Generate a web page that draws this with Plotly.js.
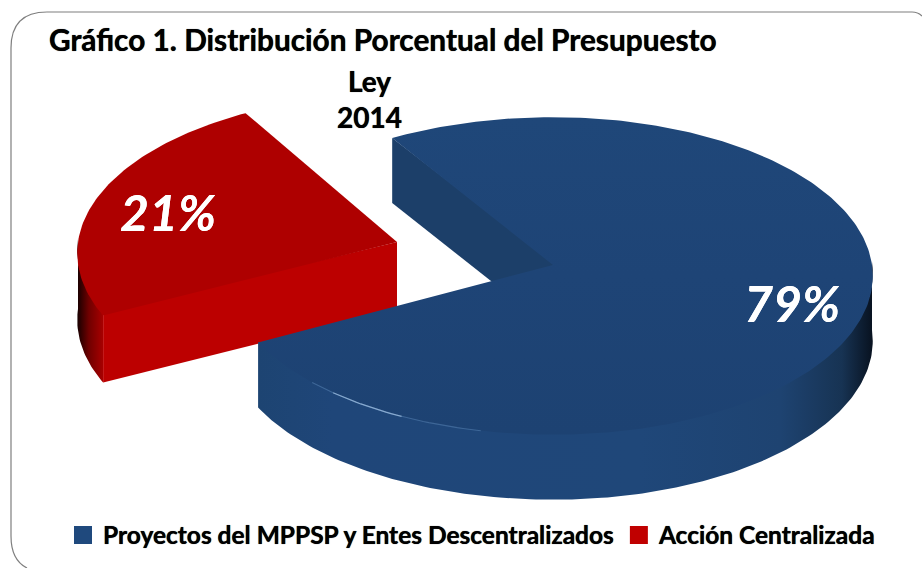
<!DOCTYPE html>
<html><head><meta charset="utf-8">
<script src="https://cdn.plot.ly/plotly-3.0.1.min.js"></script>
<style>html,body{margin:0;padding:0;background:#fff}#c{width:922px;height:568px}</style>
</head><body><div id="c"></div>
<script>
const categories = ["Proyectos del MPPSP y Entes Descentralizados", "Acción Centralizada"];
const shares = [79, 21];
const colors = ["#1F497D", "#C00000"];
const titleLine = "Gráfico 1. Distribución Porcentual del Presupuesto";
const subtitle = "Ley<br>2014";

// View of the tilted disc
const view = {a:319, b:158, k:0.069, mid:165, stretch:1.215, redTurn:-1.5};
const blueApex = [553,265,324], redApex = [397,242,319];
const blueDepth = 65, redDepth = 67;
const rad = d => d*Math.PI/180;
function warp(t){ // oblique view distorts the angles around the cut axis
  const r = rad(t-view.mid);
  const w = Math.atan2(view.stretch*Math.sin(r), Math.cos(r))*180/Math.PI;
  const wrapped = Math.atan2(Math.sin(r),Math.cos(r))*180/Math.PI;
  return t + (w-wrapped);
}
function proj(c,psi,dz){
  const u=Math.cos(rad(psi)), v=-Math.sin(rad(psi)), w=1-view.k*v;
  const a = u<0 ? c[2] : view.a;
  return [c[0]+a*u/w, c[1]+view.b*v/w+(dz||0)];
}
function arc(c,from,to,dz){
  const pts=[], n=Math.max(2,Math.ceil(Math.abs(to-from)));
  for(let i=0;i<=n;i++) pts.push(proj(c,from+(to-from)*i/n,dz));
  return pts;
}
function poly(pts,opt){
  const t={x:pts.map(p=>p[0]),y:pts.map(p=>p[1]),mode:'lines',fill:'toself',line:{width:0},
    hoverinfo:'skip',showlegend:false,type:'scatter'};
  return Object.assign(t,opt);
}
function rimLine(pts,color,width){
  return {x:pts.map(p=>p[0]),y:pts.map(p=>p[1]),mode:'lines',line:{color:color,width:width},hoverinfo:'skip',showlegend:false,type:'scatter'};
}
const redHalf = shares[1]/100*360/2;
const cutStart = warp(view.mid-redHalf), cutEnd = warp(view.mid+redHalf);
const redStart = cutStart+view.redTurn, redEnd = cutEnd+view.redTurn;
const blueStart = cutEnd, blueEnd = cutStart+360;
const overlap = -3; // walls reach slightly under the top face so no seam shows

const traces=[];
// red outer wall, radial wall, top
traces.push(poly(arc(redApex,180,redEnd,overlap).concat([proj(redApex,redEnd,0)],arc(redApex,redEnd,180,redDepth)),
  {fillgradient:{type:'horizontal',colorscale:[[0,'#150000'],[0.45,'#700000'],[1,'#A80000']]}}));
const ra=proj(redApex,redEnd,0);
traces.push(poly([[redApex[0],redApex[1]],[ra[0]+4,ra[1]-4],ra,[ra[0],ra[1]+redDepth],[redApex[0],redApex[1]+redDepth]],{fillcolor:'#BC0000'}));
traces.push(poly([redApex].concat(arc(redApex,redStart,redEnd,0)),{fillcolor:'#AE0000'}));
// blue outer wall
traces.push(poly([proj(blueApex,blueStart,0)].concat(arc(blueApex,blueStart+1,360,overlap),arc(blueApex,360,blueStart,blueDepth)),
  {fillgradient:{type:'horizontal',colorscale:[[0,'#1D4472'],[0.12,'#1F4679'],[0.62,'#1F4779'],[0.85,'#1E4371'],[0.95,'#173353'],[1,'#081220']]}}));
// blue inner radial wall
const bi=proj(blueApex,blueEnd,0);
traces.push(poly([bi,[blueApex[0],blueApex[1]+overlap],[blueApex[0],blueApex[1]+blueDepth],[bi[0],bi[1]+blueDepth]],{fillcolor:'#1C3F69'}));
// blue top
traces.push(poly([blueApex].concat(arc(blueApex,blueStart,blueEnd,0)),
  {fillgradient:{type:'vertical',colorscale:[[0,'#1D4272'],[0.5,'#1E4476'],[1,'#1F4779']]}}));
// highlight on the front rim
traces.push(rimLine(arc(blueApex,225,258,0),'rgba(120,165,215,0.35)',1.2));
traces.push(rimLine(arc(blueApex,230,244,0),'rgba(185,215,245,0.6)',1.2));
// legend
categories.forEach((c,i)=>traces.push({x:[null],y:[null],type:'scatter',mode:'markers',name:c,
  marker:{symbol:'square',size:16,color:colors[i],line:{color:colors[i],width:2}},hoverinfo:'skip'}));

const black='0 0 0.7px #000', white='0 0 0.6px #fff';
const layout={
  width:922,height:568,margin:{l:0,r:0,t:0,b:0},paper_bgcolor:'#fff',plot_bgcolor:'#fff',
  xaxis:{range:[0,922],visible:false,fixedrange:true},
  yaxis:{range:[568,0],visible:false,fixedrange:true},
  title:{text:titleLine,x:49/922,xanchor:'left',xref:'paper',y:1-41/568,yanchor:'middle',
    font:{family:'Lato',size:29.8,color:'#000',weight:700,shadow:black}},
  legend:{orientation:'h',x:63/922,xanchor:'left',y:1-535/568,yanchor:'middle',
    font:{family:'Lato',size:24.5,color:'#000',weight:700,shadow:black},bgcolor:'rgba(0,0,0,0)',itemwidth:30,traceorder:'normal'},
  shapes:[{type:'path',xref:'x',yref:'y',layer:'below',
    path:'M 27 568 Q 11 560 11 536 L 11 48 Q 11 12 47 12 L 912 12 Q 918 12 922 16',line:{color:'#7F7F7F',width:1.2}}],
  annotations:[
   {text:subtitle,x:369,y:99,xref:'x',yref:'y',showarrow:false,xanchor:'center',yanchor:'middle',align:'center',
     font:{family:'Lato',size:28,color:'#000',weight:700,shadow:black}},
   {text:shares[0]+'%',x:792,y:303,xref:'x',yref:'y',showarrow:false,font:{family:'Lato',size:50,color:'#fff',weight:700,style:'italic',shadow:white}},
   {text:shares[1]+'%',x:168,y:212,xref:'x',yref:'y',showarrow:false,font:{family:'Lato',size:50,color:'#fff',weight:700,style:'italic',shadow:white}}
  ]
};
Plotly.newPlot('c',traces,layout,{displayModeBar:false,staticPlot:true});
</script></body></html>
